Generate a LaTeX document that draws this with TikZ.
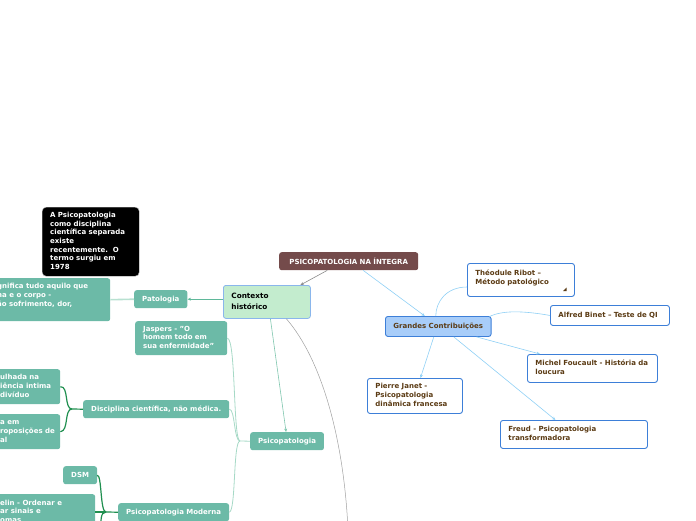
\documentclass[tikz,border=0pt]{standalone}
\usepackage{fontspec}
\setmainfont{DejaVu Sans}
\usetikzlibrary{calc,arrows.meta}
\definecolor{tealc}{HTML}{6CBAA7}
\definecolor{rootc}{HTML}{744B4B}
\definecolor{ctxfill}{HTML}{C3ECCE}
\definecolor{ctxedge}{HTML}{8AB6EC}
\definecolor{grfill}{HTML}{A8CDF9}
\definecolor{bluedge}{HTML}{3D7FD8}
\definecolor{brownt}{HTML}{5B3B14}
\definecolor{lblue}{HTML}{8FD0F5}
\definecolor{lgreen}{HTML}{A6D9C6}
\definecolor{dgreen}{HTML}{1F8F4F}
\definecolor{mgreen}{HTML}{5FB89A}
\definecolor{grayl}{HTML}{8A8A8A}
\newcommand\tlines[1]{\begin{tabular}{@{}l@{}}#1\end{tabular}}
\tikzset{
  tx/.style={font=\fontsize{7}{8.7}\selectfont\bfseries, align=left, inner xsep=8pt, inner ysep=0pt, anchor=north west, rounded corners=2.5pt},
  tealbox/.style={tx, fill=tealc, text=white},
  blubox/.style={tx, fill=white, draw=bluedge, line width=0.9pt, text=brownt},
  conn/.style={line width=0.6pt},
  tip/.style={-{Stealth[length=3.5pt,width=3pt]}},
  brace/.style={dgreen, line width=1.2pt},
  lbrace/.style={lgreen, line width=0.8pt},
}
\begin{document}
\begin{tikzpicture}[x=1pt,y=-1pt]
\useasboundingbox (0,0) rectangle (696,520);
\clip (0,0) rectangle (696,520);
% ---- nodes
\node[tx, fill=rootc, text=white, align=center, minimum width=139pt, minimum height=18pt] (root) at (279,252) {PSICOPATOLOGIA NA ÍNTEGRA};
\node[tx, fill=ctxfill, draw=ctxedge, line width=0.8pt, text=black, text width=71pt, minimum height=33pt, font=\fontsize{7.3}{10.5}\selectfont\bfseries] (ctx) at (223,285) {\tlines{Contexto\\histórico}};
\node[tx, fill=grfill, draw=bluedge, line width=0.9pt, text=brownt, align=center, minimum width=105pt, minimum height=20pt] (gr) at (385,316) {Grandes Contribuições};
\node[blubox, text width=91pt, minimum height=33pt] (ribot) at (467,263) {\tlines{Théodule Ribot –\\Método patológico\\[3pt]}};
\node[blubox, text width=103pt, minimum height=20pt] (binet) at (550,305) {\tlines{Alfred Binet – Teste de QI}};
\node[blubox, text width=114pt, minimum height=28pt] (fouc) at (527,354) {\tlines{Michel Foucault - História da\\loucura}};
\node[blubox, text width=79pt, minimum height=35pt] (janet) at (367,378) {\tlines{Pierre Janet -\\Psicopatologia\\dinâmica francesa}};
\node[blubox, text width=131pt, minimum height=28pt] (freud) at (500,420) {\tlines{Freud - Psicopatologia\\transformadora}};
\fill[brownt] (563,291) -- (566.5,291) -- (566.5,287.5) -- cycle;

\node[tx, fill=black, draw=gray!60, line width=0.4pt, text=white, text width=81pt, minimum height=69pt, rounded corners=4pt] (note) at (42,207) {\tlines{A Psicopatologia\\como disciplina\\científica separada\\existe\\recentemente.\ \ O\\termo surgiu em\\1978}};
\node[tealbox, align=center, minimum width=52pt, minimum height=18pt] (pat) at (134,290) {Patologia};
\node[tealbox, minimum height=43pt] (patc) at (-60,278) {\hspace*{49pt}\parbox[c]{105pt}{\tlines{gnifica tudo aquilo que\\na e o corpo -\\ão sofrimento, dor,\\[8pt]}}};
\node[tealbox, text width=76pt, minimum height=34pt] (jasp) at (135,321) {\tlines{Jaspers - "O\\homem todo em\\sua enfermidade"}};
\node[tealbox, align=center, minimum width=144pt, minimum height=18pt] (disc) at (83,400) {Disciplina científica, não médica.};
\node[tealbox, minimum height=35pt] (dc1) at (-60,369) {\hspace*{52pt}\parbox[c]{52pt}{\tlines{ulhada na\\iência intima\\divíduo}}};
\node[tealbox, minimum height=35pt] (dc2) at (-60,414) {\hspace*{52pt}\parbox[c]{52pt}{\tlines{a em\\roposições de\\al}}};
\node[tealbox, align=center, minimum width=72pt, minimum height=18pt] (psico) at (250,432) {Psicopatologia};
\node[tealbox, align=center, minimum width=109pt, minimum height=18pt] (pmod) at (118,503) {Psicopatologia Moderna};
\node[tealbox, align=center, minimum width=32pt, minimum height=18pt] (dsm) at (63,466) {DSM};
\node[tealbox, minimum height=36pt] (krae) at (-60,494) {\hspace*{52pt}\parbox[c]{87pt}{\tlines{elin - Ordenar e\\ar sinais e\\omas}}};
\coordinate (below) at (348,530);
\coordinate (pmodnext) at (101,530);

% ---- connectors
\draw[conn, grayl, tip] ([xshift=-21.5pt]root.south) -- ([xshift=33.5pt]ctx.north);
\draw[conn, lblue, tip] ([xshift=14.5pt]root.south) -- ([xshift=-13.5pt]gr.north);
\draw[conn, mgreen, tip] (ctx.west |- pat.east) -- (pat.east);
\draw[lgreen!80, line width=1.6pt] (pat.west) -- (patc.east);
\draw[conn, mgreen!80, tip] ([xshift=3.5pt]ctx.south) -- ([xshift=-1pt]psico.north);
\draw[line width=0.5pt, gray!75] ([xshift=19.5pt]ctx.south) .. controls (322,360) and (344,440) .. (below);
\draw[conn, lblue] ([xshift=-2.5pt]gr.north) .. controls ([xshift=-2.5pt,yshift=14pt]gr.north) and (446,287) .. (ribot.west |- 0,287);
\draw[conn, lblue] ([xshift=-2pt,yshift=-0.5pt]gr.north east) .. controls (505,309) and (530,312) .. (binet.west);
\draw[conn, lblue, tip] ([xshift=-15pt]gr.south east) -- ([xshift=13pt]fouc.north west);
\draw[conn, lblue, tip] ([xshift=-4.5pt]gr.south) -- ([xshift=5.5pt]janet.north);
\draw[conn, lblue, tip] ([xshift=15.5pt]gr.south) -- ([xshift=-18.5pt]freud.north);

% light brace from Psicopatologia
\coordinate (pj) at (240,441);
\draw[lbrace] (psico.west) -- (pj);
\draw[lbrace] (pj) .. controls (233,441) and (236,339) .. (jasp.east);
\draw[lbrace] (pj) .. controls (234,441) and (235,409) .. (disc.east);
\draw[lbrace] (pj) .. controls (233,441) and (236,511) .. (pmod.east);

% dark braces
\coordinate (dj) at (72,409);
\draw[brace] (disc.west) -- (dj);
\draw[brace] (dj) .. controls (64,409) and (69,386) .. (dc1.east);
\draw[brace] (dj) .. controls (64,409) and (69,431) .. (dc2.east);
\coordinate (mj) at (106,512);
\draw[brace] (pmod.west) -- (mj);
\draw[brace] (mj) .. controls (100,512) and (102,475) .. (dsm.east);
\draw[brace] (mj) -- (krae.east |- mj);
\draw[brace] (mj) .. controls (100,512) and (101,522) .. (pmodnext);
\end{tikzpicture}
\end{document}
